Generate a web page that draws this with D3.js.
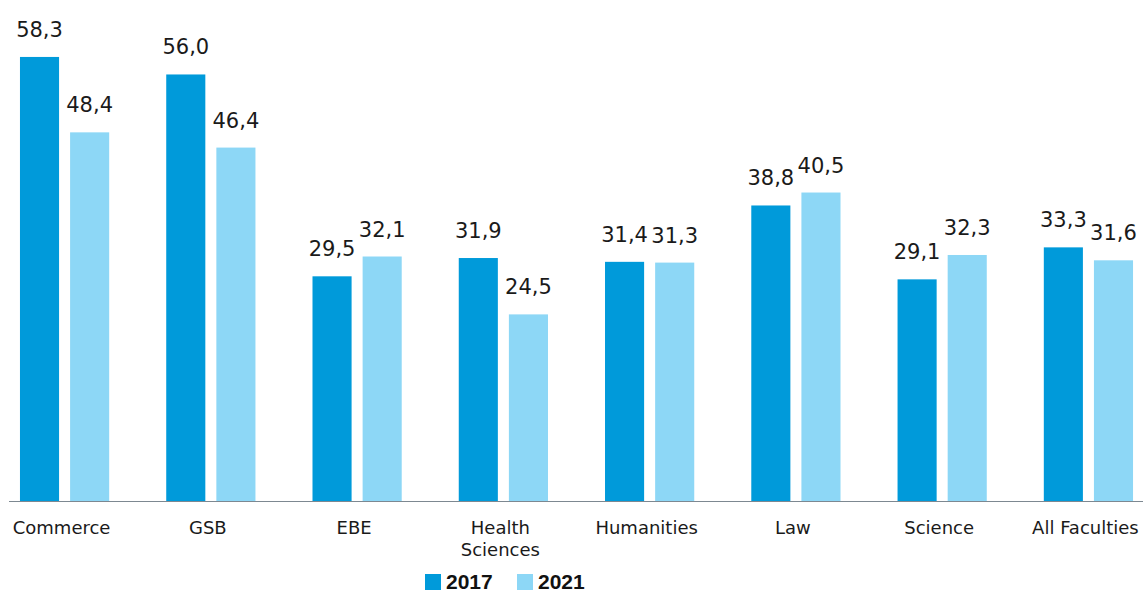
<!DOCTYPE html>
<html>
<head>
<meta charset="utf-8">
<script src="https://cdn.jsdelivr.net/npm/d3@7"></script>
<style>
  html, body { margin: 0; padding: 0; background: #fff; }
  svg { display: block; }
</style>
</head>
<body>
<svg id="chart" width="1143" height="593"></svg>
<script>
// Faculty names (axis labels; "\n" splits a label over two lines)
const categories = ["Commerce", "GSB", "EBE", "Health\nSciences", "Humanities", "Law", "Science", "All Faculties"];
const seriesNames = ["2017", "2021"];
const values2017 = [58.3, 56.0, 29.5, 31.9, 31.4, 38.8, 29.1, 33.3];
const values2021 = [48.4, 46.4, 32.1, 24.5, 31.3, 40.5, 32.3, 31.6];
const colors = ["#009ADA", "#8DD7F6"];

const rows = categories.map((c, i) => ({ cat: c, vals: [values2017[i], values2021[i]] }));

const svg = d3.select("#chart");
const W = 1143, baseY = 501;

const x0 = d3.scaleBand().domain(categories).range([9, 1144]).paddingInner(0.39).paddingOuter(0.075);
const x1 = d3.scaleBand().domain(seriesNames).range([0, x0.bandwidth()]).paddingInner(0.22);
const y = d3.scaleLinear().domain([0, 60]).range([baseY, 44]);

const fmt = v => d3.format(".1f")(v).replace(".", ",");

const groups = svg.append("g").selectAll("g").data(rows).join("g")
  .attr("transform", d => `translate(${x0(d.cat)},0)`);

groups.selectAll("rect").data(d => d.vals.map((v, j) => ({ v, s: seriesNames[j], j })))
  .join("rect")
  .attr("x", d => x1(d.s))
  .attr("width", x1.bandwidth())
  .attr("y", d => y(d.v))
  .attr("height", d => baseY - y(d.v))
  .attr("fill", d => colors[d.j]);

groups.selectAll("text.val").data(d => d.vals.map((v, j) => ({ v, s: seriesNames[j] })))
  .join("text")
  .attr("class", "val")
  .attr("x", d => x1(d.s) + x1.bandwidth() / 2)
  .attr("y", d => y(d.v) - 20)
  .attr("text-anchor", "middle")
  .attr("font-family", "DejaVu Sans, sans-serif")
  .attr("font-size", 21)
  .attr("fill", "#1a1a1a")
  .text(d => fmt(d.v));

// x axis baseline and category labels
const xAxis = d3.axisBottom(x0).tickSize(0).tickPadding(0).tickFormat(() => "");
const axisG = svg.append("g").attr("transform", `translate(0,${baseY + 0.5})`).call(xAxis);
axisG.select(".domain").attr("d", `M9,0H${W}`).attr("stroke", "#7d8891").attr("stroke-width", 1.2);

axisG.selectAll(".tick").each(function(d) {
  const t = d3.select(this).select("text")
    .attr("y", 0).attr("dy", null)
    .attr("font-family", "DejaVu Sans, sans-serif")
    .attr("font-size", 18)
    .attr("fill", "#1a1a1a")
    .attr("text-anchor", "middle")
    .text(null);
  d.split("\n").forEach((line, k) => {
    t.append("tspan").attr("x", -3).attr("y", 32 + k * 22).text(line);
  });
});

// legend
const legend = svg.append("g");
const legendX = [425, 517];
seriesNames.forEach((s, j) => {
  legend.append("rect").attr("x", legendX[j]).attr("y", 574).attr("width", 16).attr("height", 16).attr("fill", colors[j]);
  legend.append("text").attr("x", legendX[j] + 21).attr("y", 588.5)
    .attr("font-family", "Liberation Sans, Arial, sans-serif")
    .attr("font-weight", "bold").attr("font-size", 21).attr("fill", "#111")
    .text(s);
});
</script>
</body>
</html>
